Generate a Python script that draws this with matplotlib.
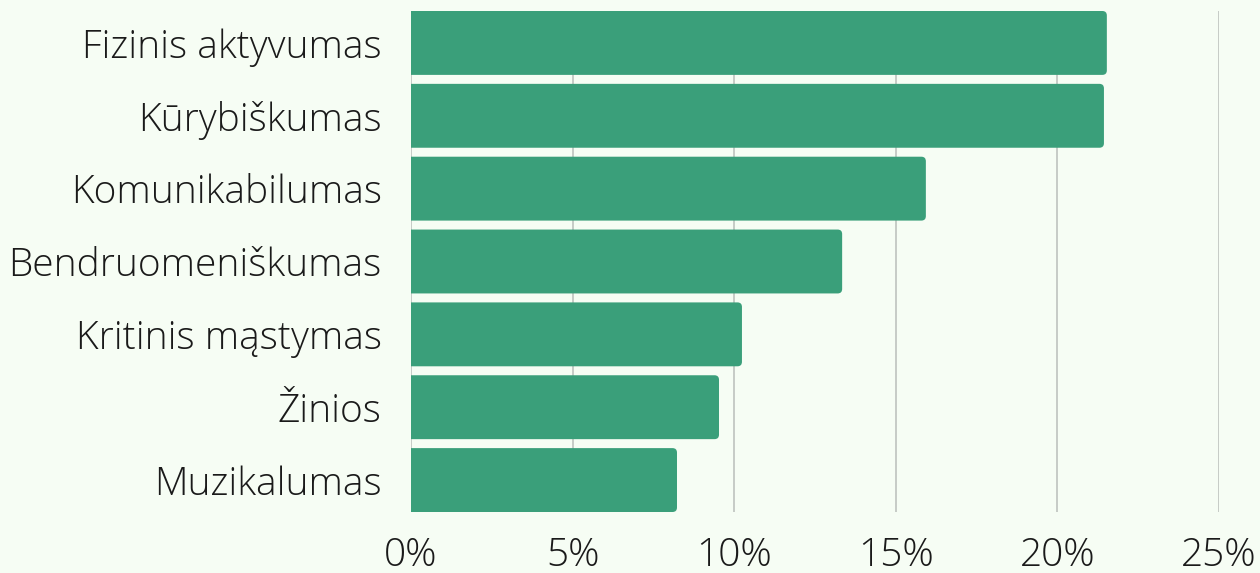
from matplotlib import pyplot as plt
from matplotlib.patches import FancyBboxPatch

# data
labels = ['Fizinis aktyvumas', 'Kūrybiškumas', 'Komunikabilumas', 'Bendruomeniškumas',
          'Kritinis mąstymas', 'Žinios', 'Muzikalumas']
values = [21.53, 21.44, 15.93, 13.34, 10.24, 9.53, 8.23]
xticks = [0, 5, 10, 15, 20, 25]

bg = '#f6fdf4'
green = '#3a9f7a'

plt.rcParams['font.family'] = ['Open Sans', 'DejaVu Sans']

fig = plt.figure(figsize=(12.6, 5.73), dpi=100, facecolor=bg)
ax = fig.add_axes([411 / 1260, 1 - 512 / 573, (1219 - 411) / 1260, (512 - 11) / 573])
ax.set_facecolor(bg)
ax.set_xlim(0, 25)

h = 0.877
ax.set_ylim(len(values) - 1 + h / 2, -h / 2)

# aspect of data units so the corners come out round
px_x = (1219 - 411) / 25.0
px_y = (512 - 11) / (len(values) - 1 + h)
for i, v in enumerate(values):
    p = FancyBboxPatch((-1, i - h / 2), v + 1, h,
                       boxstyle='round,pad=0,rounding_size=0.14',
                       mutation_aspect=px_x / px_y,
                       facecolor=green, edgecolor='none', zorder=3)
    ax.add_patch(p)

ax.set_yticks(range(len(labels)))
ax.set_yticklabels(labels)
ax.set_xticks(xticks)
ax.set_xticklabels([f'{t}%' for t in xticks])
for t in ax.get_xticklabels() + ax.get_yticklabels():
    t.set_fontsize(28)
    t.set_fontweight('light')
    t.set_color('#1a1a1a')
ax.tick_params(axis='both', length=0)
ax.tick_params(axis='y', pad=21)
ax.tick_params(axis='x', pad=18)

ax.grid(True, axis='x', color='#c6cbc6', linewidth=1.4, zorder=0)
ax.set_axisbelow(True)
for s in ax.spines.values():
    s.set_visible(False)

fig.savefig('out.png', dpi=100, facecolor=bg)
